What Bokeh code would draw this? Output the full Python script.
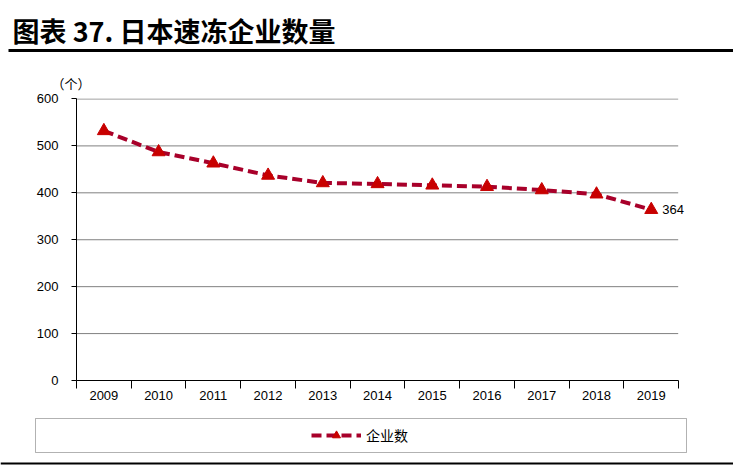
from bokeh.plotting import figure
from bokeh.layouts import column
from bokeh.models import (FixedTicker, Label, BoxAnnotation, Legend, LegendItem,
                          Range1d, ColumnDataSource)
from bokeh.embed import file_html
from bokeh.resources import INLINE

years = ["2009", "2010", "2011", "2012", "2013", "2014", "2015", "2016", "2017", "2018", "2019"]
counts = [532, 487, 463, 437, 421, 419, 416, 413, 406, 397, 364]
y_ticks = [0, 100, 200, 300, 400, 500, 600]
title_text = "图表 37. 日本速冻企业数量"
unit_text = "（个）"
series_name = "企业数"

LINE_C = "#A8002A"
MARK_C = "#C80000"
NUM_FONT = "Liberation Sans Narrow, Liberation Sans, Arial"
CJK = "Noto Sans CJK SC"
W = 733


def blank(h):
    f = figure(width=W, height=h, output_backend="svg", toolbar_location=None,
               x_range=Range1d(0, 1), y_range=Range1d(0, 1),
               x_axis_location=None, y_axis_location=None, frame_align=False,
               min_border_left=0, min_border_right=0, min_border_top=0, min_border_bottom=0)
    f.grid.grid_line_color = None
    f.outline_line_color = None
    f.background_fill_color = "white"
    f.border_fill_color = "white"
    return f


def sbox(f, l, r, b, t, **kw):
    f.add_layout(BoxAnnotation(left=l, right=r, bottom=b, top=t,
                               left_units="screen", right_units="screen",
                               bottom_units="screen", top_units="screen", **kw))


# ---- header ----
hdr = blank(56)
hdr.add_layout(Label(x=12, y=26, x_units="screen", y_units="screen", text=title_text,
                     text_font=CJK, text_font_size="27px", text_font_style="bold",
                     text_baseline="middle", text_color="black"))
sbox(hdr, 8, W, 4.5, 7.5, fill_color="black", fill_alpha=1, line_color=None)

# ---- chart ----
n = len(years)
xs = [i + 0.5 for i in range(n)]
src = ColumnDataSource(dict(x=xs, y=counts, year=years))

p = figure(width=W, height=354, output_backend="svg", toolbar_location=None,
           x_range=Range1d(0, n + 0.4), y_range=Range1d(0, 601), frame_align=False,
           min_border_left=76, min_border_right=33, min_border_top=42, min_border_bottom=30)
p.outline_line_color = None
p.background_fill_color = "white"
p.border_fill_color = "white"
p.title.text = unit_text
p.title.align = "left"
p.title.offset = -25
p.title.standoff = 12
p.title.text_font = CJK
p.title.text_font_size = "13px"
p.title.text_font_style = "normal"
p.title.text_color = "black"

xa = p.xaxis[0]
xa.bounds = (0, n)
xa.ticker = FixedTicker(ticks=xs, minor_ticks=list(range(n + 1)))
xa.major_label_overrides = {x: y for x, y in zip(xs, years)}
xa.major_tick_out = 0
xa.major_tick_in = 0
xa.minor_tick_out = 8
xa.minor_tick_in = 0
xa.minor_tick_line_color = "black"
xa.axis_line_color = "black"
xa.major_label_standoff = 2
xa.major_label_text_font = NUM_FONT
xa.major_label_text_font_size = "13px"
xa.major_label_text_color = "black"

ya = p.yaxis[0]
ya.bounds = (0, 600)
ya.ticker = FixedTicker(ticks=y_ticks)
ya.major_tick_out = 5
ya.major_tick_in = 0
ya.minor_tick_line_color = None
ya.axis_line_color = "black"
ya.major_tick_line_color = "black"
ya.major_label_standoff = 13
ya.major_label_text_font = NUM_FONT
ya.major_label_text_font_size = "13px"
ya.major_label_text_color = "black"

p.grid.grid_line_color = None
gy = y_ticks[1:]
p.segment(x0=[0] * len(gy), x1=[n] * len(gy), y0=gy, y1=gy,
          line_color="black", line_width=1, line_dash="1 1")

ln = p.line("x", "y", source=src, line_color=LINE_C, line_width=4, line_dash="10 5")
mk = p.scatter("x", "y", source=src, marker="triangle", size=13,
               fill_color=MARK_C, line_color=MARK_C)

p.add_layout(Label(x=xs[-1], y=counts[-1], text=str(counts[-1]), x_offset=11,
                   text_baseline="middle", text_font=NUM_FONT, text_font_size="13px",
                   text_color="black"))

# ---- legend ----
lg = blank(55)
sbox(lg, 35, 686, 13, 47, fill_color="white", fill_alpha=1, line_color="black", line_width=1)
sbox(lg, 0, W, 1, 3, fill_color="black", fill_alpha=1, line_color=None)
hidden = ColumnDataSource(dict(x=[-5], y=[-5]))
lln = lg.line("x", "y", source=hidden, line_color=LINE_C, line_width=4, line_dash="10 5")
lmk = lg.scatter("x", "y", source=hidden, marker="triangle", size=13,
                 fill_color=MARK_C, line_color=MARK_C)
leg = Legend(items=[LegendItem(label=series_name, renderers=[lln, lmk])],
             location=(311, 20), orientation="horizontal",
             padding=0, margin=0, spacing=0, border_line_color=None,
             background_fill_alpha=0, glyph_width=50, glyph_height=20,
             label_height=20, label_standoff=5,
             label_text_font=CJK, label_text_font_size="14px", label_text_color="black")
lg.add_layout(leg)

layout = column(hdr, p, lg, spacing=0)
open("out.html", "w").write(file_html(layout, INLINE))
